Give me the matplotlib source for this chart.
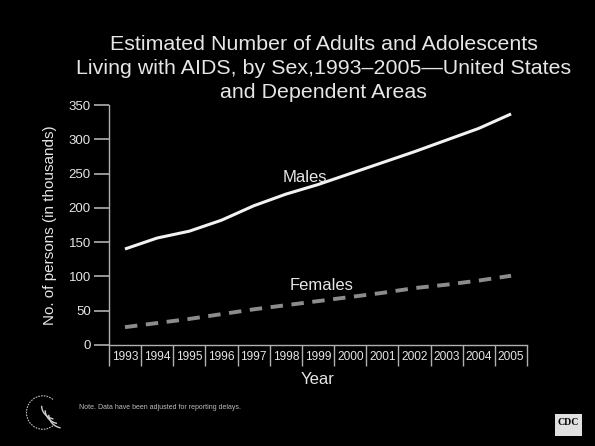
import matplotlib
matplotlib.use("Agg")
import matplotlib.pyplot as plt
from matplotlib.patches import Arc, Rectangle
import numpy as np

plt.rcParams['font.family'] = ['Liberation Sans', 'DejaVu Sans']

years = ['1993', '1994', '1995', '1996', '1997', '1998', '1999',
         '2000', '2001', '2002', '2003', '2004', '2005']
males = [140, 156, 166, 182, 203, 220, 234, 250, 266, 282, 299, 316, 337]
females = [26, 32, 38, 45, 52, 58, 64, 70, 76, 83, 88, 94, 101]
y_ticks = [0, 50, 100, 150, 200, 250, 300, 350]

bg = 'black'
fg = '#e6e6e6'

fig = plt.figure(figsize=(5.95, 4.46), dpi=100, facecolor=bg)
ax = fig.add_axes([0.183, 0.2265, 0.703, 0.538], facecolor=bg)

x = np.arange(len(years))
ax.plot(x, males, color='#f2f2f2', lw=2.2, solid_capstyle='butt')
ax.plot(x, females, color='#8c8c8c', lw=2.8, dashes=(3.2, 2.2))

ax.set_xlim(-0.5, len(years) - 0.5)
ax.set_ylim(0, 350)

for s in ['top', 'right']:
    ax.spines[s].set_visible(False)
for s in ['left', 'bottom']:
    ax.spines[s].set_color('#b0b0b0')
    ax.spines[s].set_linewidth(1.0)

ax.set_yticks(y_ticks)
ax.tick_params(axis='y', colors='#b0b0b0', labelcolor=fg, labelsize=9.5,
               length=11, width=1.2, direction='out', pad=2)

# category boundaries as ticks, labels centered between them
ax.set_xticks(np.arange(len(years) + 1) - 0.5)
ax.set_xticklabels([])
ax.tick_params(axis='x', which='major', colors='#b0b0b0', length=15,
               width=1.0, direction='out')
ax.set_xticks(x, minor=True)
ax.set_xticklabels(years, minor=True)
ax.tick_params(axis='x', which='minor', length=0, labelcolor=fg,
               labelsize=8.6, pad=4)

ax.set_xlabel('Year', color=fg, fontsize=12, labelpad=1)
ax.set_ylabel('No. of persons (in thousands)', color=fg, fontsize=11,
              labelpad=8)

ax.text(5.6, 245, 'Males', color=fg, fontsize=12, ha='center', va='center')
ax.text(6.1, 87, 'Females', color=fg, fontsize=12, ha='center', va='center')

fig.text(0.544, 0.847, 'Estimated Number of Adults and Adolescents\n'
         'Living with AIDS, by Sex,1993\u20132005\u2014United States\n'
         'and Dependent Areas', color=fg, fontsize=15.4, ha='center',
         va='center', linespacing=1.32)

fig.text(0.133, 0.087, 'Note. Data have been adjusted for reporting delays.',
         color='#bdbdbd', fontsize=5, ha='left', va='center')

# HHS emblem (simplified)
fig.add_artist(Arc((0.072, 0.075), 0.055, 0.075, theta1=60, theta2=300,
                   transform=fig.transFigure, color='#bbbbbb', lw=0.8,
                   ls=(0, (1.5, 1))))
for k in range(3):
    fig.add_artist(Arc((0.095 + 0.006 * k, 0.09 - 0.01 * k), 0.05, 0.06,
                       theta1=180, theta2=260, transform=fig.transFigure,
                       color='#cfcfcf', lw=1.0))

# CDC logo (simplified)
fig.add_artist(Rectangle((0.933, 0.022), 0.045, 0.05,
                         transform=fig.transFigure, facecolor='#e0e0e0',
                         edgecolor='none'))
fig.text(0.9555, 0.052, 'CDC', color='black', fontsize=7, fontweight='bold',
         family='Liberation Serif', ha='center', va='center')

fig.savefig('out.png', dpi=100, facecolor=bg)
